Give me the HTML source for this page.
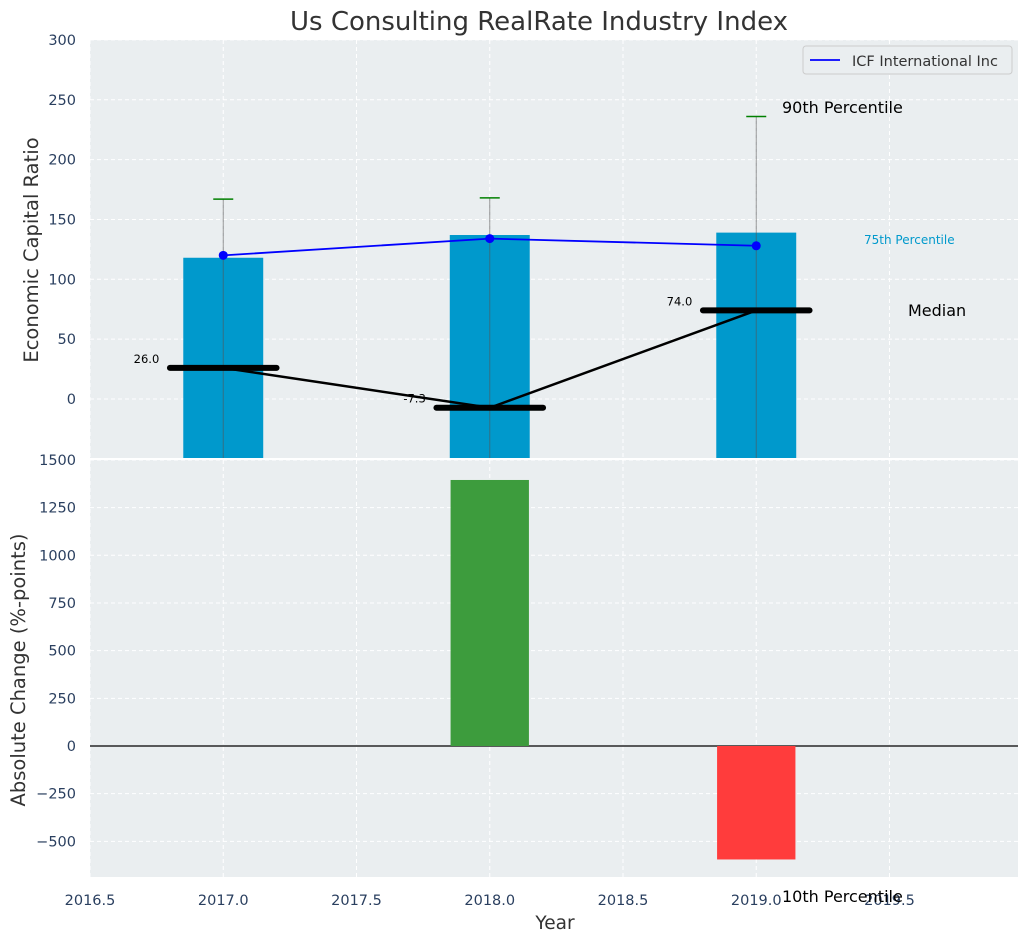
<!DOCTYPE html>
<html><head><meta charset="utf-8"><style>
body{margin:0;background:#fff;font-family:"Liberation Sans","DejaVu Sans",sans-serif}
svg text{font-family:"DejaVu Sans","Liberation Sans",sans-serif}
</style></head><body>
<svg id="c" width="1029" height="942"></svg>
<script>
const years=[2017,2018,2019];
const p75=[118,137,139];
const p90=[167,168,236];
const company=[120,134,128];
const medians=[26.0,-7.3,74.0];
const changes=[0,1395,-595];
const topTicks=[0,50,100,150,200,250,300];
const botTicks=[-500,-250,0,250,500,750,1000,1250,1500];
const xTicks=[2016.5,2017.0,2017.5,2018.0,2018.5,2019.0,2019.5];

const svg=document.getElementById('c');const NS='http://www.w3.org/2000/svg';
function el(t,a,p){const e=document.createElementNS(NS,t);for(const k in a)e.setAttribute(k,a[k]);(p||svg).appendChild(e);return e;}
const L=90,R=1018;
const X=v=>L+(v-2016.5)*266.5;
const T0=40,T1=458,B0=460,B1=877;
const Y1=v=>399-v*1.197;
const Y2=v=>746-v*0.1907;
function txt(x,y,s,o){const e=el('text',Object.assign({x:x,y:y,'font-size':14.5,fill:'#2a3f5f'},o||{}));e.textContent=s;return e;}

let g=el('rect',{x:L,y:T0,width:R-L,height:T1-T0,fill:'#eaeef0'});

g=el('rect',{x:L,y:B0,width:R-L,height:B1-B0,fill:'#eaeef0'});

xTicks.forEach(v=>{[[T0,T1],[B0,B1]].forEach(r=>el('line',{x1:X(v),x2:X(v),y1:r[0],y2:r[1],stroke:'#fff','stroke-dasharray':'4,3','stroke-width':1}));});
topTicks.forEach(v=>{el('line',{x1:L,x2:R,y1:Y1(v),y2:Y1(v),stroke:'#fff','stroke-dasharray':'4,3'});
 const t=txt(L-14,Y1(v)+5,String(v),{'text-anchor':'end'});});
botTicks.forEach(v=>{el('line',{x1:L,x2:R,y1:Y2(v),y2:Y2(v),stroke:'#fff','stroke-dasharray':'4,3'});
 const t=txt(L-14,Y2(v)+5,(v<0?'−'+(-v):String(v)),{'text-anchor':'end'});});
xTicks.forEach(v=>{const t=txt(X(v),905,v.toFixed(1),{'text-anchor':'middle'});});
el('line',{x1:L,x2:R,y1:459,y2:459,stroke:'#fff','stroke-width':2});

years.forEach((y,i)=>{
 const b=el('rect',{x:X(y-0.15),y:Y1(p75[i]),width:0.3*266.5,height:T1-Y1(p75[i]),fill:'#0099cc'});
 
 el('line',{x1:X(y),x2:X(y),y1:T1,y2:Y1(p90[i]),stroke:'#555','stroke-opacity':0.6,'stroke-width':1});
 const c=el('line',{x1:X(y)-10,x2:X(y)+10,y1:Y1(p90[i]),y2:Y1(p90[i]),stroke:'green','stroke-width':1.5});
 
});
el('polyline',{points:years.map((y,i)=>X(y)+','+Y1(medians[i])).join(' '),fill:'none',stroke:'#000','stroke-width':2.5});
years.forEach((y,i)=>{
 const m=el('line',{x1:X(y-0.2),x2:X(y+0.2),y1:Y1(medians[i]),y2:Y1(medians[i]),stroke:'#000','stroke-width':6,'stroke-linecap':'round'});
 
 const t=txt(X(y-0.24),Y1(medians[i])-5,medians[i].toFixed(1),{'font-size':11.5,fill:'#000','text-anchor':'end'});
 
});
el('polyline',{points:years.map((y,i)=>X(y)+','+Y1(company[i])).join(' '),fill:'none',stroke:'blue','stroke-width':1.8});
years.forEach((y,i)=>{const p=el('circle',{cx:X(y),cy:Y1(company[i]),r:4.5,fill:'blue'});});
let a=txt(782,113,'90th Percentile',{fill:'#000','font-size':16});
a=txt(864,244,'75th Percentile',{fill:'#0099cc','font-size':12});
a=txt(908,316,'Median',{fill:'#000','font-size':16});
a=txt(782,902,'10th Percentile',{fill:'#000','font-size':16});
const lg=el('g',{});
el('rect',{x:803,y:46,width:209,height:28,fill:'#eaeef0',stroke:'#ccc',rx:3},lg);
el('line',{x1:810,x2:840,y1:60,y2:60,stroke:'blue','stroke-width':1.8},lg);
const lt=el('text',{x:852,y:66,'font-size':14.5,fill:'#333'},lg);lt.textContent='ICF International Inc';

el('line',{x1:L,x2:R,y1:Y2(0),y2:Y2(0),stroke:'#000','stroke-width':1.2});
years.forEach((y,i)=>{if(!changes[i])return;
 const v=changes[i];const b=el('rect',{x:X(y-0.147),y:Math.min(Y2(0),Y2(v)),width:0.294*266.5,height:Math.abs(Y2(v)-Y2(0)),fill:v>0?'#3d9c3d':'#ff3c3c'});
 });

a=txt(539,30,'Us Consulting RealRate Industry Index',{'font-size':26,fill:'#333','text-anchor':'middle'});
a=txt(555,929,'Year',{'font-size':18.5,fill:'#333','text-anchor':'middle'});
a=txt(38,250,'Economic Capital Ratio',{'font-size':19.5,fill:'#333','text-anchor':'middle',transform:'rotate(-90 38 250)'});
a=txt(25,670,'Absolute Change (%-points)',{'font-size':19.5,fill:'#333','text-anchor':'middle',transform:'rotate(-90 25 670)'});
</script>
</body></html>
